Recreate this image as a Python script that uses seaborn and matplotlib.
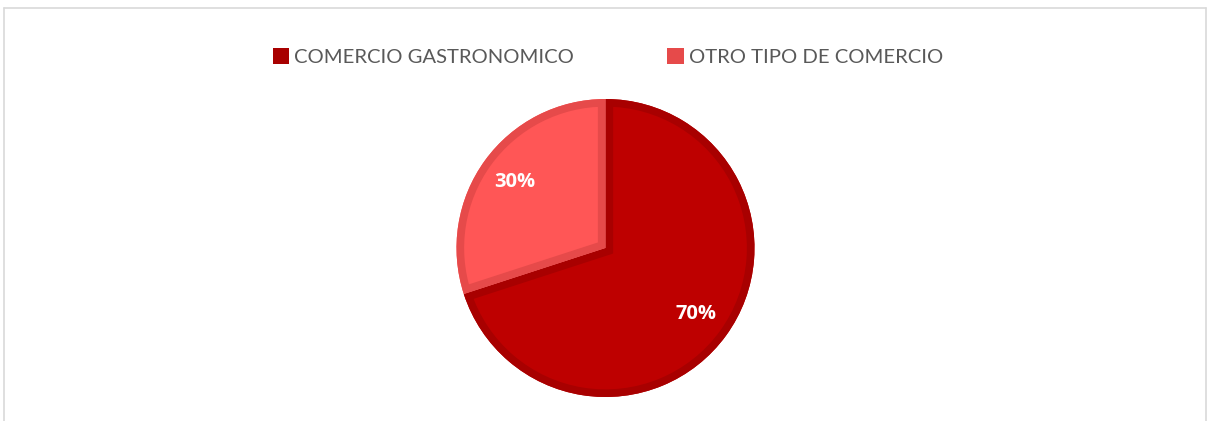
import matplotlib
matplotlib.use("Agg")
import matplotlib.pyplot as plt
from matplotlib.patches import Patch
from matplotlib.lines import Line2D
import seaborn as sns

categories = ["COMERCIO GASTRONOMICO", "OTRO TIPO DE COMERCIO"]
shares = [70, 30]
fill_colors = ["#BE0000", "#FF5656"]
edge_colors = ["#A80000", "#E64A4A"]

sns.set_theme(style="white")
plt.rcParams["font.family"] = ["Lato", "DejaVu Sans"]

W, H = 1208, 421
fig = plt.figure(figsize=(W / 100, H / 100), dpi=100)

# pie placement in pixels
cx, cy, r = 605.5, 248, 149
ax = fig.add_axes([(cx - r) / W, (H - cy - r) / H, 2 * r / W, 2 * r / H])

wedges, texts, autotexts = ax.pie(
    shares,
    colors=fill_colors,
    startangle=90,
    counterclock=False,
    radius=1,
    autopct="%d%%",
    pctdistance=0.75,
    wedgeprops=dict(linewidth=0),
    textprops=dict(color="white", fontsize=14.5, fontweight="bold",
                   family=["Open Sans", "DejaVu Sans"]),
)

# inner darker rim on each slice: a thick edge clipped to the slice itself
for w, ec in zip(wedges, edge_colors):
    rim = matplotlib.patches.Wedge(w.center, w.r, w.theta1, w.theta2,
                                   facecolor="none", edgecolor=ec, linewidth=11)
    ax.add_patch(rim)
    rim.set_clip_path(w)

ax.set_xlim(-1, 1)
ax.set_ylim(-1, 1)
ax.set_aspect("equal")
ax.axis("off")

handles = [Patch(facecolor=c, edgecolor="none") for c in edge_colors]
leg = fig.legend(
    handles, categories,
    loc="center", bbox_to_anchor=(608 / W, 1 - 57 / H),
    ncol=2, frameon=False, fontsize=14.6,
    handlelength=0.8, handleheight=0.8, handletextpad=0.25,
    columnspacing=4.6,
)
for t in leg.get_texts():
    t.set_color("#595959")

# light frame around the chart area
border = "#D9D9D9"
x0, x1, ytop = 3.5 / W, 1205.5 / W, 1 - 7.5 / H
fig.add_artist(Line2D([x0, x1], [ytop, ytop], color=border, linewidth=1.2))
fig.add_artist(Line2D([x0, x0], [0, ytop], color=border, linewidth=1.2))
fig.add_artist(Line2D([x1, x1], [0, ytop], color=border, linewidth=1.2))

fig.savefig("out.png", dpi=100, facecolor="white")
